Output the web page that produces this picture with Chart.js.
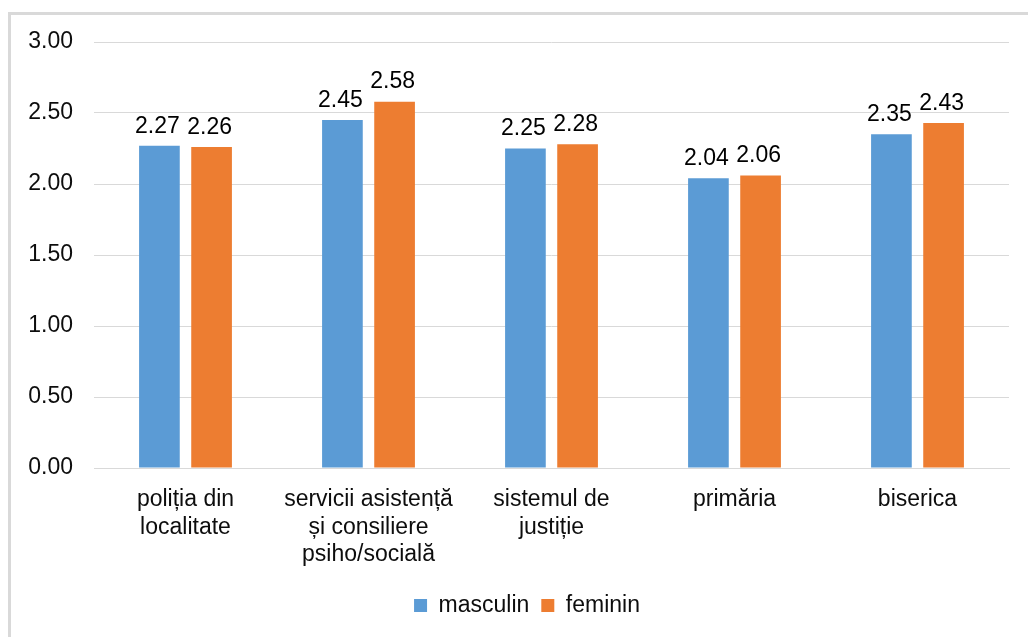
<!DOCTYPE html>
<html>
<head>
<meta charset="utf-8">
<script src="https://cdn.jsdelivr.net/npm/chart.js@4/dist/chart.umd.min.js"></script>
<style>
  body { margin: 0; background: #fff; overflow: hidden; }
  #frame {
    position: absolute; left: 8px; top: 12px; width: 1100px; height: 700px;
    border-top: 3px solid #d9d9d9; border-left: 3px solid #d9d9d9;
  }
  #chart { position: absolute; left: 0; top: 0; }
</style>
</head>
<body>
<div id="frame"></div>
<canvas id="chart" width="1028" height="637"></canvas>
<script>
// Categorii si valori medii pe sexe
const categorii = [
    ['poliția din', 'localitate'],
    ['servicii asistență', 'și consiliere', 'psiho/socială'],
    ['sistemul de', 'justiție'],
    'primăria',
    'biserica'
];
const masculin = [2.27, 2.45, 2.25, 2.04, 2.35];
const feminin = [2.26, 2.58, 2.28, 2.06, 2.43];
const etichetaY = [0, 0.5, 1, 1.5, 2, 2.5, 3];

const FONT = '"Liberation Sans", Arial, sans-serif';

// Scrie valoarea deasupra fiecarei bare
const valoriBare = {
    id: 'valoriBare',
    afterDatasetsDraw(chart) {
        const ctx = chart.ctx;
        ctx.save();
        ctx.font = '23px ' + FONT;
        ctx.fillStyle = '#000';
        ctx.textAlign = 'center';
        ctx.textBaseline = 'bottom';
        chart.data.datasets.forEach((ds, i) => {
            chart.getDatasetMeta(i).data.forEach((bar, j) => {
                ctx.fillText(ds.data[j].toFixed(2), bar.x - 2, bar.y - 8);
            });
        });
        ctx.restore();
    }
};

// Axa Y e ingusta, asa ca ii largim zona de desen spre stanga
// ca etichetele sa nu fie taiate
const axaLarga = {
    id: 'axaLarga',
    afterLayout(chart) {
        chart.scales.y.left = 0;
    }
};

const ctx = document.getElementById('chart').getContext('2d');
new Chart(ctx, {
    type: 'bar',
    data: {
        labels: categorii,
        datasets: [{
            label: 'masculin',
            data: masculin,
            backgroundColor: '#5b9bd5',
            categoryPercentage: 0.57,
            barPercentage: 0.78
        }, {
            label: 'feminin',
            data: feminin,
            backgroundColor: '#ed7d31',
            categoryPercentage: 0.57,
            barPercentage: 0.78
        }]
    },
    options: {
        responsive: false,
        animation: false,
        devicePixelRatio: 1,
        layout: { padding: { left: 45, right: 19, top: 42, bottom: 10 } },
        scales: {
            x: {
                grid: { display: false, drawTicks: false },
                border: { color: '#d9d9d9' },
                ticks: {
                    color: '#0d0d0d',
                    font: { family: FONT, size: 23, lineHeight: 1.2 },
                    padding: 18,
                    maxRotation: 0,
                    autoSkip: false
                },
                afterFit(scale) { scale.height = 114; }
            },
            y: {
                min: 0,
                max: 3,
                afterBuildTicks(scale) {
                    scale.ticks = etichetaY.map(v => ({ value: v }));
                },
                grid: { color: '#d9d9d9', drawTicks: false },
                border: { display: false },
                ticks: {
                    color: '#0d0d0d',
                    font: { family: FONT, size: 23 },
                    padding: 21,
                    callback: v => Number(v).toFixed(2)
                },
                afterFit(scale) { scale.width = 49; }
            }
        },
        plugins: {
            legend: {
                position: 'bottom',
                labels: {
                    color: '#0d0d0d',
                    font: { family: FONT, size: 23 },
                    boxWidth: 13,
                    boxHeight: 13,
                    padding: 12
                }
            },
            tooltip: { enabled: false }
        }
    },
    plugins: [valoriBare, axaLarga]
});
</script>
</body>
</html>
